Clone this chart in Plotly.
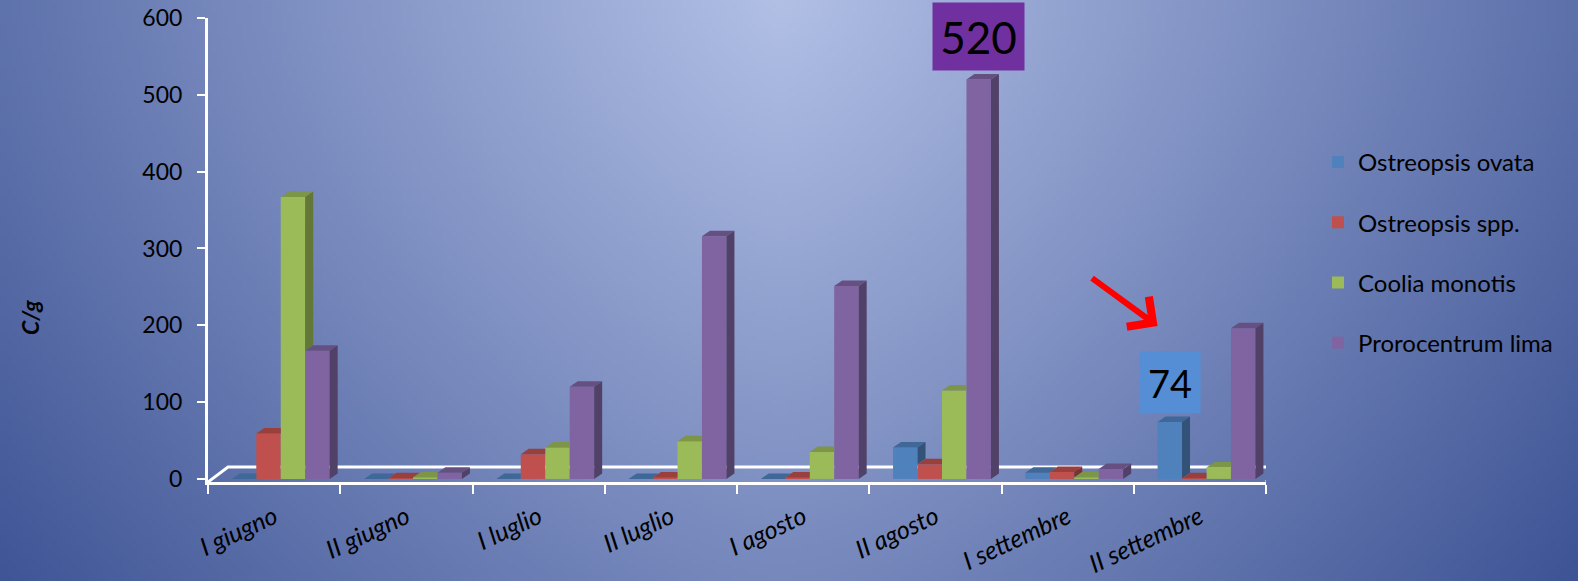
import base64
import struct
import zlib

import numpy as np
import plotly.graph_objects as go

# ---- data ----
categories = ["I giugno", "II giugno", "I luglio", "II luglio",
              "I agosto", "II agosto", "I settembre", "II settembre"]
series_names = ["Ostreopsis ovata", "Ostreopsis spp.", "Coolia monotis", "Prorocentrum lima"]
ostreopsis_ovata = [0, 0, 0, 0, 0, 41, 8, 74]
ostreopsis_spp = [59, 1, 32, 2, 2, 19, 9, 1]
coolia_monotis = [367, 2, 41, 49, 35, 115, 2, 15]
prorocentrum_lima = [167, 8, 120, 316, 251, 520, 13, 196]
y_ticks = [0, 100, 200, 300, 400, 500, 600]

front_colors = ["#4F81BD", "#C0504D", "#9BBB59", "#8064A2"]

W, H = 1578, 581
ML, MR, MT, MB = 208, 312, 18, 99
Y_MIN, Y_MAX = -4, 600
N = len(categories)

# pixel scales, used to turn the 3d depth into data units
px_per_x = (W - ML - MR) / N
px_per_y = (H - MT - MB) / (Y_MAX - Y_MIN)
DX = 8 / px_per_x          # bar depth, horizontal
DY = 5.5 / px_per_y        # bar depth, vertical
FLOOR_DX = 20 / px_per_x
FLOOR_DY = 15 / px_per_y

BAR_W = 0.185
BAR_START = -0.32


def shade(hex_color, k):
    r, g, b = (int(hex_color[i:i + 2], 16) for i in (1, 3, 5))
    return f"rgb({int(r * k)},{int(g * k)},{int(b * k)})"


def gradient_png():
    # background: light centre at the top, darker blue towards the edges
    gw, gh = 316, 117
    yy, xx = np.mgrid[0:gh, 0:gw]
    px = (xx + 0.5) * W / gw
    py = (yy + 0.5) * H / gh
    t = ((np.abs(px - 780) / 1120) ** 1.5 + (py / 1160) ** 1.5) ** (1 / 1.5)
    t = np.clip(t, 0, 1)[..., None]
    c0 = np.array([178, 192, 230])
    c1 = np.array([58, 80, 146])
    img = (c0 + (c1 - c0) * t).astype(np.uint8)
    raw = b"".join(b"\x00" + img[r].tobytes() for r in range(gh))

    def chunk(tag, data):
        return (struct.pack(">I", len(data)) + tag + data
                + struct.pack(">I", zlib.crc32(tag + data) & 0xffffffff))

    png = (b"\x89PNG\r\n\x1a\n"
           + chunk(b"IHDR", struct.pack(">IIBBBBB", gw, gh, 8, 2, 0, 0, 0))
           + chunk(b"IDAT", zlib.compress(raw, 9))
           + chunk(b"IEND", b""))
    return "data:image/png;base64," + base64.b64encode(png).decode()


all_values = [ostreopsis_ovata, ostreopsis_spp, coolia_monotis, prorocentrum_lima]
centers = [i + 0.5 for i in range(N)]

fig = go.Figure()

# front faces
for s, (name, vals, col) in enumerate(zip(series_names, all_values, front_colors)):
    fig.add_trace(go.Bar(
        x=centers, y=vals, name=name,
        offset=BAR_START + s * BAR_W, width=BAR_W,
        marker=dict(color=col, line=dict(width=0)),
        legendgroup=name,
    ))

# top and side faces, clipped where the next bar of the group hides them
for s, (vals, col) in enumerate(zip(all_values, front_colors)):
    tx, ty, sx, sy = [], [], [], []
    for i, h in enumerate(vals):
        xl = centers[i] + BAR_START + s * BAR_W
        xr = xl + BAR_W
        hn = all_values[s + 1][i] if s + 1 < len(all_values) else 0
        c = min(max(hn - h, 0), DY) if s + 1 < len(all_values) else 0
        tx += [xl, xr, xr, xr + (DY - c) * DX / DY, xl + DX, xl, None]
        ty += [h, h, h + c, h + DY, h + DY, h, None]
        if h > hn or s + 1 == len(all_values):
            sx += [xr, xr + DX, xr + DX, xr, xr, None]
            sy += [hn, hn + DY, h + DY, h, hn, None]
    fig.add_trace(go.Scatter(x=tx, y=ty, mode="lines", fill="toself",
                             fillcolor=shade(col, 0.8), line=dict(width=0),
                             showlegend=False, hoverinfo="skip"))
    fig.add_trace(go.Scatter(x=sx, y=sy, mode="lines", fill="toself",
                             fillcolor=shade(col, 0.64), line=dict(width=0),
                             showlegend=False, hoverinfo="skip"))

# back edge of the floor
fig.add_shape(type="path", xref="x", yref="y", layer="below",
              path=f"M 0,{Y_MIN} L {FLOOR_DX},{Y_MIN + FLOOR_DY} "
                   f"L {N + FLOOR_DX},{Y_MIN + FLOOR_DY} L {N},{Y_MIN}",
              line=dict(color="white", width=3))

# background gradient covering the whole page
pw, ph = W - ML - MR, H - MT - MB
fig.add_layout_image(dict(source=gradient_png(), xref="paper", yref="paper",
                          x=-ML / pw, y=1 + MT / ph, sizex=W / pw, sizey=H / ph,
                          xanchor="left", yanchor="top", sizing="stretch",
                          layer="below"))

# value call-outs
lima_peak = prorocentrum_lima.index(max(prorocentrum_lima))
fig.add_annotation(x=centers[lima_peak] + BAR_START + 3 * BAR_W + BAR_W / 2,
                   y=prorocentrum_lima[lima_peak], text=str(prorocentrum_lima[lima_peak]),
                   showarrow=False, yanchor="bottom", yshift=8,
                   bgcolor="#7030A0", borderpad=6, width=79, height=55,
                   font=dict(family="Lato", size=44, color="black"))
last = N - 1
fig.add_annotation(x=centers[last] + BAR_START + BAR_W / 2,
                   y=ostreopsis_ovata[last], text=str(ostreopsis_ovata[last]),
                   showarrow=False, yanchor="bottom", yshift=8,
                   bgcolor="#558ED5", borderpad=6, width=48, height=49,
                   font=dict(family="Lato", size=38, color="black"))
# red arrow pointing at the 74
fig.add_annotation(x=centers[last] + BAR_START, y=ostreopsis_ovata[last],
                   yshift=96, text="", showarrow=True, arrowhead=4,
                   arrowsize=1.2, arrowwidth=6, arrowcolor="#FF0000",
                   ax=-67, ay=-49, standoff=0)

# axis title
fig.add_annotation(xref="paper", yref="paper", x=(30 - ML) / pw, y=(H - MB - 318) / ph,
                   xanchor="center", yanchor="middle",
                   text="<b><i>C/g</i></b>", textangle=-90, showarrow=False,
                   font=dict(family="Lato", size=23, color="black"))

fig.update_layout(
    width=W, height=H,
    margin=dict(l=ML, r=MR, t=MT, b=MB, autoexpand=False),
    paper_bgcolor="#3a5092",
    plot_bgcolor="rgba(0,0,0,0)",
    barmode="overlay",
    font=dict(family="Lato", color="black"),
    legend=dict(x=(1318 - ML) / pw, y=(H - MB - 140) / ph, xanchor="left", yanchor="top",
                bgcolor="rgba(0,0,0,0)", font=dict(size=24, family="Lato"),
                traceorder="grouped", tracegroupgap=26),
    xaxis=dict(
        range=[0, N], tickmode="array", tickvals=centers, ticktext=categories,
        tickangle=-25, ticks="", showgrid=False, zeroline=False, automargin=False,
        showline=True, linecolor="white", linewidth=3,
        tickfont=dict(family="Lato", size=25, style="italic"),
        ticklabelstandoff=8,
        minor=dict(tickmode="array", tickvals=list(range(N + 1)), ticks="outside",
                   ticklen=9, tickwidth=2, tickcolor="white", showgrid=False),
    ),
    yaxis=dict(
        range=[Y_MIN, Y_MAX], tickmode="array", tickvals=y_ticks, automargin=False,
        ticks="outside", ticklen=8, tickwidth=2, tickcolor="white",
        showline=True, linecolor="white", linewidth=3,
        showgrid=False, zeroline=False,
        tickfont=dict(family="Lato", size=23),
        ticklabelstandoff=10,
    ),
)

# the page's default body margin would shift the figure by 8px
fig.write_html("out.html", config={"displayModeBar": False},
               post_script="document.body.style.margin = '0';")
